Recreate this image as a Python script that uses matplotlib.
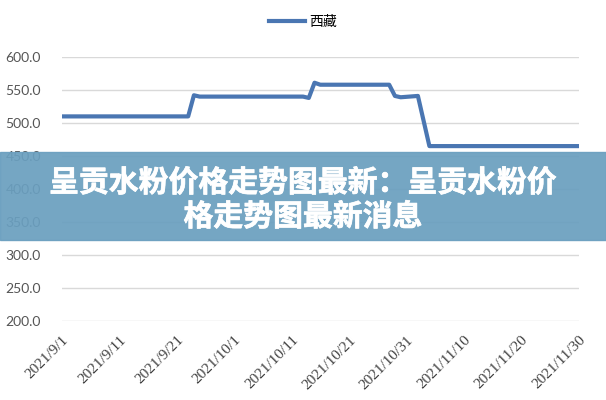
import numpy as np
import pandas as pd
import matplotlib.pyplot as plt
import matplotlib.patheffects as pe
from matplotlib.lines import Line2D

plt.rcParams['font.family'] = ['Noto Sans CJK SC', 'DejaVu Sans']

# price series for 西藏
dates = ['2021-09-01', '2021-09-23', '2021-09-24', '2021-09-25', '2021-10-13',
         '2021-10-14', '2021-10-15', '2021-10-16', '2021-10-28', '2021-10-29',
         '2021-10-30', '2021-11-02', '2021-11-04', '2021-11-30']
prices = [510, 510, 542, 540, 540, 538, 561, 558, 558, 541, 539, 541, 465, 465]
series_name = '西藏'

tick_dates = ['2021-09-01', '2021-09-11', '2021-09-21', '2021-10-01', '2021-10-11',
              '2021-10-21', '2021-10-31', '2021-11-10', '2021-11-20', '2021-11-30']
tick_labels = ['2021/9/1', '2021/9/11', '2021/9/21', '2021/10/1', '2021/10/11',
               '2021/10/21', '2021/10/31', '2021/11/10', '2021/11/20', '2021/11/30']
y_ticks = [200, 250, 300, 350, 400, 450, 500, 550, 600]

banner_lines = ['呈贡水粉价格走势图最新：呈贡水粉价', '格走势图最新消息']

x = pd.to_datetime(dates)
xt = pd.to_datetime(tick_dates)

fig = plt.figure(figsize=(6.06, 4.0), dpi=100)
ax = fig.add_axes([0.102, 0.1975, 0.853, 0.66])

ax.plot(x, prices, color='#4a76b2', lw=3, solid_joinstyle='round', solid_capstyle='round')

ax.set_xlim(xt[0], xt[-1])
ax.set_ylim(200, 600)
ax.set_yticks(y_ticks)
ax.set_yticklabels([f'{v:.1f}' for v in y_ticks], fontsize=10, color='#555555',
                   family=['Lato', 'DejaVu Sans'])
ax.set_xticks(xt)
ax.set_xticklabels(tick_labels, rotation=45, ha='right', rotation_mode='anchor',
                   fontsize=11, color='#404040', family=['Liberation Serif', 'DejaVu Serif'])
ax.tick_params(axis='y', length=0, pad=15)
ax.tick_params(axis='x', length=0, pad=9)
ax.grid(axis='y', color='#d9d9d9', lw=1)
for s in ax.spines.values():
    s.set_visible(False)

handle = Line2D([], [], color='#4a76b2', lw=3)
fig.legend([handle], [series_name], loc='center', bbox_to_anchor=(0.5, 0.945),
           frameon=False, fontsize=10, handlelength=2.6, handletextpad=0.3)

# title banner over the chart
fig.patches.append(plt.Rectangle((0, 0.40), 1, 0.22, transform=fig.transFigure,
                                 color='#6a9fbf', alpha=0.93, zorder=5))
thick = [pe.withStroke(linewidth=0.5, foreground='white')]
fig.text(0.5, 0.543, banner_lines[0], ha='center', va='center', color='white',
         fontsize=21.5, fontweight='bold', zorder=6, path_effects=thick)
fig.text(0.5, 0.458, banner_lines[1], ha='center', va='center', color='white',
         fontsize=21.5, fontweight='bold', zorder=6, path_effects=thick)

fig.savefig('out.png', dpi=100)
